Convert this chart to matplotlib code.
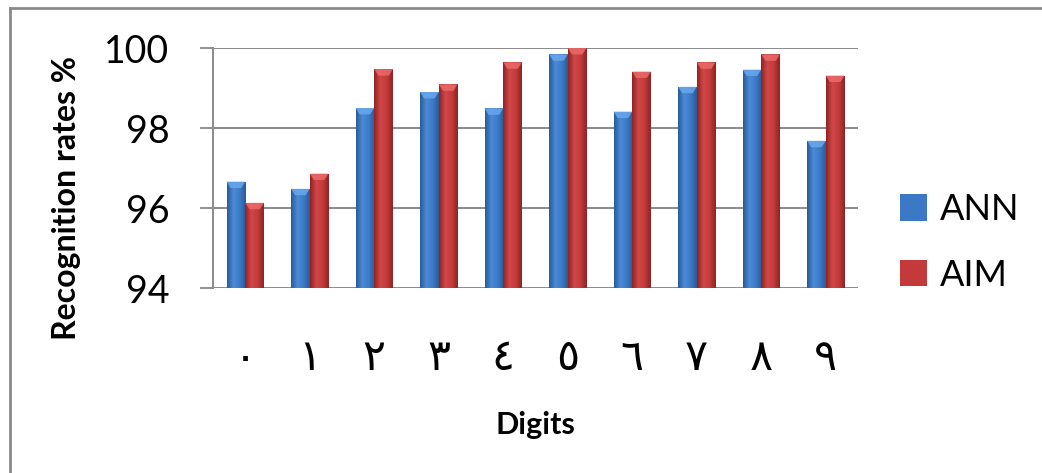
import numpy as np
import matplotlib
matplotlib.use("Agg")
import matplotlib.pyplot as plt
from matplotlib.colors import LinearSegmentedColormap
from matplotlib.patches import Polygon
from matplotlib.lines import Line2D

# Recognition rates per Arabic-Indic digit
digits = ["٠", "١", "٢", "٣", "٤", "٥", "٦", "٧", "٨", "٩"]
ann = [96.66, 96.48, 98.50, 98.90, 98.49, 99.84, 98.41, 99.03, 99.46, 97.68]
aim = [96.13, 96.86, 99.47, 99.09, 99.64, 100.0, 99.41, 99.64, 99.84, 99.31]
series_names = ["ANN", "AIM"]
y_ticks = [94, 96, 98, 100]

GRID = "#8a8a8a"
plt.rcParams["font.family"] = ["Lato", "DejaVu Sans"]

fig = plt.figure(figsize=(10.42, 4.73), dpi=100)
ax = fig.add_axes([213 / 1042, 1 - 288 / 473, 645 / 1042, 240 / 473])

x = np.arange(len(digits))
w = 0.29
base = y_ticks[0]

styles = [
    dict(face="#3b78c6", grad=["#2a5a98", "#4a8ad6", "#3d7bc8", "#2a5a98"], cap="#6aa8ec"),
    dict(face="#c43a3a", grad=["#8c2424", "#d24646", "#c43c3c", "#8c2424"], cap="#ec6a6a"),
]

containers = []
for k, (vals, off) in enumerate([(ann, -w / 2), (aim, w / 2)]):
    st = styles[k]
    heights = np.array(vals) - base
    bars = ax.bar(x + off, heights, width=w, bottom=base, color=st["face"],
                  edgecolor="none", zorder=3, label=series_names[k])
    containers.append(bars)
    cmap = LinearSegmentedColormap.from_list(f"g{k}", st["grad"])
    grad = np.linspace(0, 1, 64).reshape(1, -1)
    for b in bars:
        x0, y0 = b.get_x(), b.get_y()
        bw, bh = b.get_width(), b.get_height()
        im = ax.imshow(grad, cmap=cmap, aspect="auto", zorder=4,
                       extent=(x0, x0 + bw, y0, y0 + bh), interpolation="bilinear")
        im.set_clip_path(b)
        # bevelled cap at the top of each bar
        depth = 0.16
        cap = Polygon([(x0, y0 + bh), (x0 + bw, y0 + bh),
                       (x0 + bw * 0.78, y0 + bh - depth), (x0 + bw * 0.22, y0 + bh - depth)],
                      closed=True, facecolor=st["cap"], edgecolor="none", alpha=0.85, zorder=5)
        ax.add_patch(cap)

ax.set_xlim(-0.5, len(digits) - 0.5)
ax.set_ylim(base, y_ticks[-1])
ax.set_yticks(y_ticks)
ax.set_yticklabels([str(t) for t in y_ticks], fontsize=27)
ax.set_xticks(x)
ax.set_xticklabels(digits, fontsize=31, family=["DejaVu Sans"])
ax.tick_params(axis="x", length=0, pad=35)
ax.tick_params(axis="y", length=9.5, width=1.3, color=GRID, pad=22)
ax.yaxis.grid(True, color=GRID, linewidth=1.4, zorder=1)
ax.set_axisbelow(True)
for s in ["top", "right", "bottom"]:
    ax.spines[s].set_visible(False)
ax.spines["left"].set_color(GRID)
ax.spines["left"].set_linewidth(1.4)

ax.set_ylabel("Recognition rates %", fontsize=23, fontweight="bold")
ax.yaxis.set_label_coords((81 - 213) / 645, (288 - 198) / 240)
ax.set_xlabel("Digits", fontsize=22, fontweight="bold")
ax.xaxis.set_label_coords(0.5, (288 - 411) / 240)

leg = fig.legend(handles=containers, labels=series_names, loc="center left",
                 bbox_to_anchor=(900 / 1042, 1 - 242.5 / 473), frameon=False,
                 fontsize=26, handlelength=0.75, handleheight=0.75,
                 handletextpad=0.35, labelspacing=0.9, borderpad=0, borderaxespad=0)

# outer frame of the chart area
fig.add_artist(Line2D([10 / 1042, 1.0], [1 - 8 / 473, 1 - 8 / 473],
                      transform=fig.transFigure, color=GRID, linewidth=2))
fig.add_artist(Line2D([10 / 1042, 10 / 1042], [0.0, 1 - 8 / 473],
                      transform=fig.transFigure, color=GRID, linewidth=2))

fig.savefig("out.png", dpi=100)
